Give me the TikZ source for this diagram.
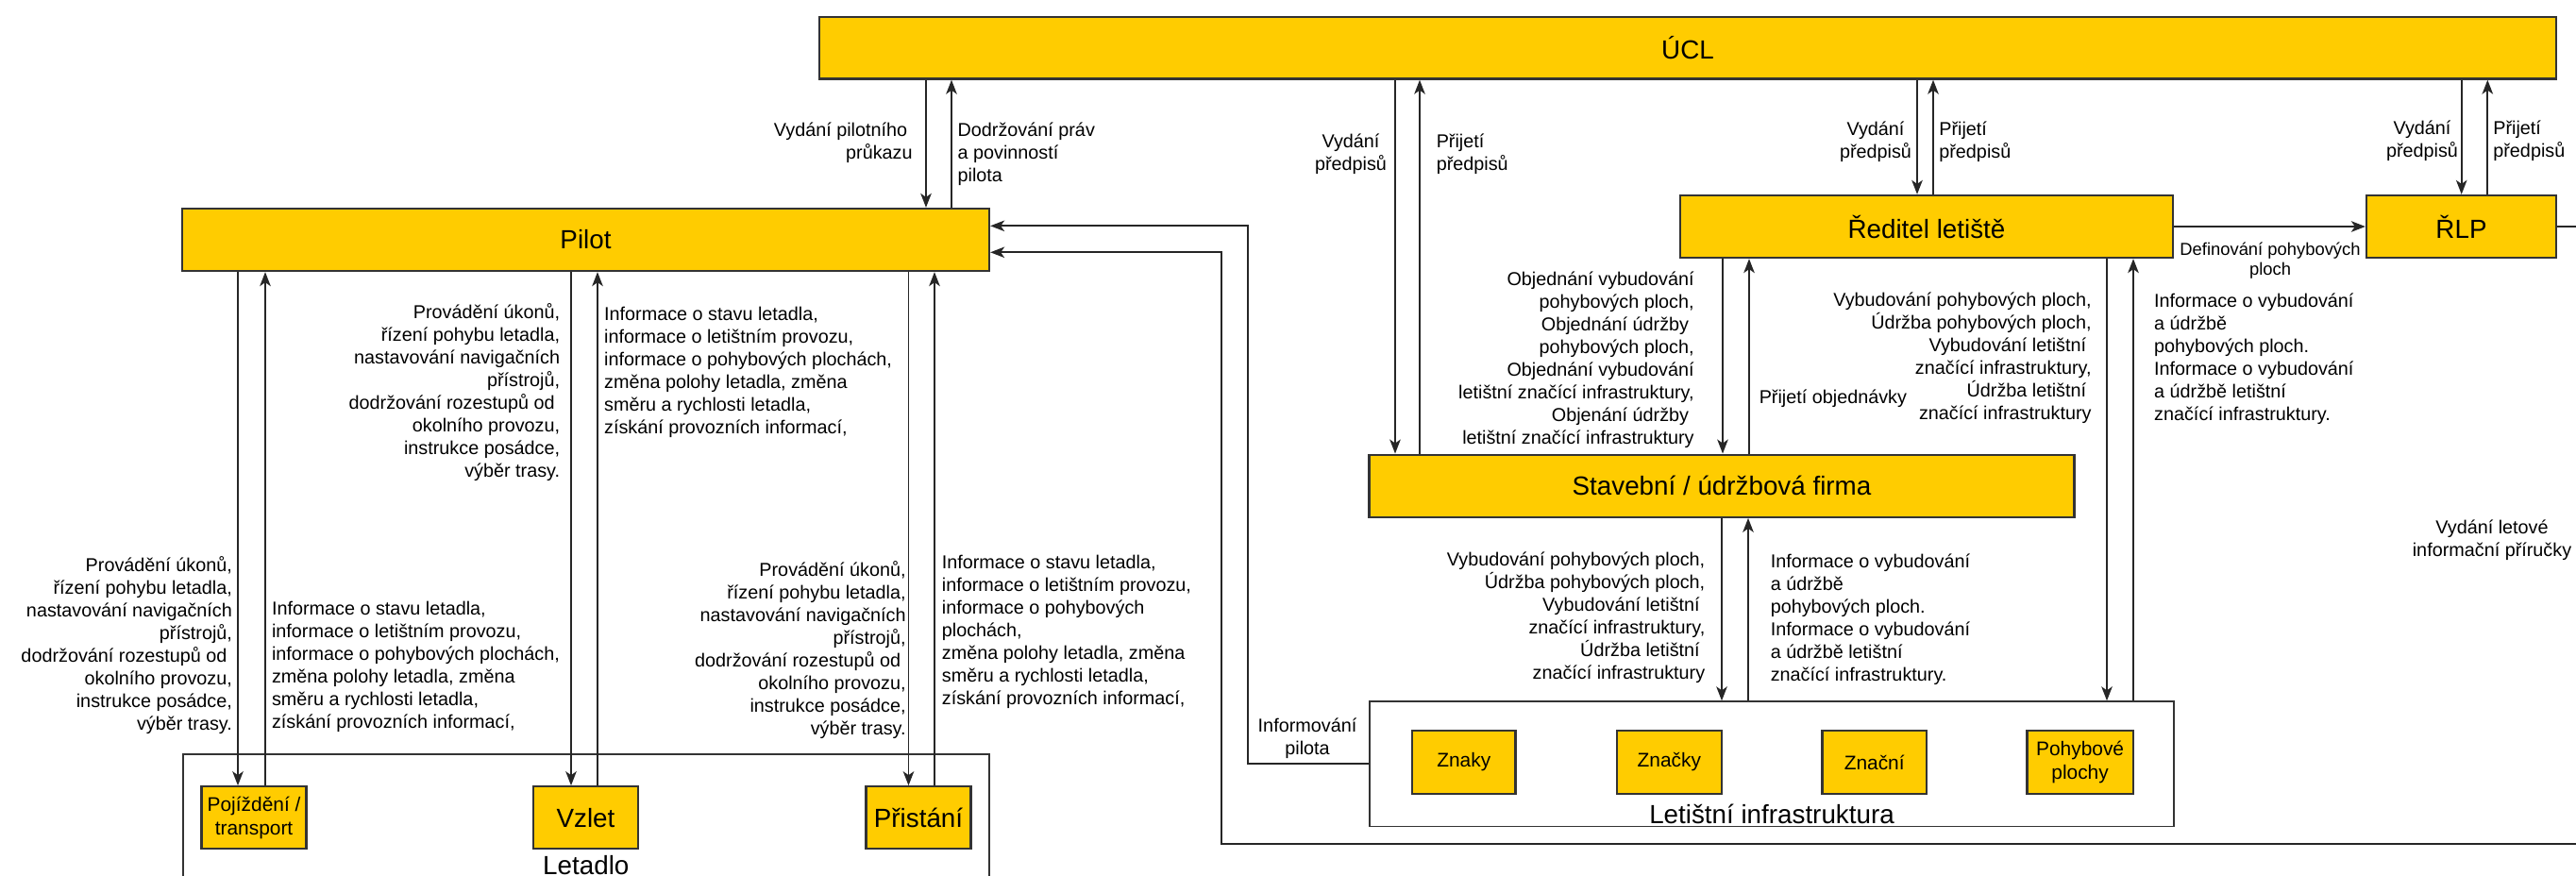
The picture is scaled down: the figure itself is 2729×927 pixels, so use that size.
\documentclass[tikz,border=0pt]{standalone}
\usepackage{fontspec}
\setmainfont{Liberation Sans}
\usetikzlibrary{arrows.meta,fit}

\definecolor{boxfill}{HTML}{FFCC00}
\definecolor{boxedge}{HTML}{333333}
\definecolor{linecol}{HTML}{262626}

% one unit of the drawing = 0.02cm
\newlength\pxu
\setlength\pxu{0.02cm}
\newcommand\tsp{\kern5.5\pxu}
\newcommand\topstrut{\rule{0pt}{1em}}
\newcommand\fsmall{\fontsize{11.27pt}{13.66pt}\selectfont}
\newcommand\fdefn{\fontsize{10.47pt}{12.35pt}\selectfont}
\newcommand\finner{\fontsize{11.9pt}{14.3pt}\selectfont}
\newcommand\fbig{\fontsize{15.82pt}{19pt}\selectfont}

\tikzset{
  ybox/.style={draw=boxedge, fill=boxfill, line width=1.3pt, inner sep=0pt},
  frame/.style={draw=boxedge, fill=white, line width=1.1pt, inner sep=0pt},
  link/.style={draw=linecol, line width=1.05pt},
  conn/.style={link, -{Stealth[length=0.3cm, width=0.23cm, inset=0.08cm]}},
  bigtext/.style={font=\fbig, inner sep=0pt},
  innertext/.style={font=\finner, inner sep=0pt, align=center},
  lbl/.style={font=\fsmall, inner sep=0pt},
  lblr/.style={lbl, align=right, anchor=north east},
  lbll/.style={lbl, align=left, anchor=north west},
  lblc/.style={lbl, align=center, anchor=north},
}
% vertical links between an upper and a lower node at a given x
\newcommand\linkdown[3]{\draw[conn] (#1.south -| #3,0) -- (#2.north -| #3,0);}
\newcommand\linkup[3]{\draw[conn] (#2.north -| #3,0) -- (#1.south -| #3,0);}

\begin{document}
\begin{tikzpicture}[x=0.02cm, y=-0.02cm]
\useasboundingbox (0,0) rectangle (2729,927);
\clip (0,0) rectangle (2729,927);

% ---- containers
\node[frame, fit={(193.6,799.3) (1048,1000)}] (letadlo) {};
\node[frame, fit={(1451,743.3) (2303,875.5)}] (letinf) {};
\node[bigtext, anchor=base] (letadloT) at (620.8,926) {Letadlo};
\node[bigtext, anchor=base] (letinfT) at (1877,872) {Letištní infrastruktura};

% ---- main actors
\node[ybox, fit={(868,18) (2708,83.5)}, label={[bigtext]center:ÚCL}] (ucl) {};
\node[ybox, fit={(193,221) (1048,287)}, label={[bigtext]center:Pilot}] (pilot) {};
\node[ybox, fit={(1780,207) (2302,273)}, label={[bigtext]center:Ředitel letiště}] (reditel) {};
\node[ybox, fit={(2507,207) (2708,273)}, label={[bigtext]center:ŘLP}] (rlp) {};
\node[ybox, fit={(1450.5,481.7) (2197.5,547.7)}, label={[bigtext]center:Stavební / údržbová firma}] (firma) {};

% ---- aircraft phases
\node[ybox, fit={(213.6,833.3) (324.5,899.3)}, label={[innertext]center:{Pojíždění /\\transport}}] (pojizdeni) {};
\node[ybox, fit={(565,833.3) (676,899.3)}, label={[bigtext]center:Vzlet}] (vzlet) {};
\node[ybox, fit={(917.6,833.3) (1028.5,899.3)}, label={[bigtext]center:Přistání}] (pristani) {};

% ---- airport infrastructure parts
\node[ybox, fit={(1496,774.3) (1605.6,840.7)}, label={[innertext]center:Znaky}] (znaky) {};
\node[ybox, fit={(1712.7,774.3) (1824,840.7)}, label={[innertext]center:Značky}] (znacky) {};
\node[ybox, fit={(1930.4,774.3) (2041,840.7)}, label={[innertext]center:Znační}] (znacni) {};
\node[ybox, fit={(2147.5,774.3) (2259.7,840.7)}, label={[innertext]center:{Pohybové\\plochy}}] (plochy) {};

% ---- vertical links
\linkdown{ucl}{pilot}{981}
\linkup{ucl}{pilot}{1008}
\linkdown{ucl}{firma}{1478}
\linkup{ucl}{firma}{1504}
\linkdown{ucl}{reditel}{2031}
\linkup{ucl}{reditel}{2048}
\linkdown{ucl}{rlp}{2607.7}
\linkup{ucl}{rlp}{2635.3}
\linkdown{reditel}{firma}{1825}
\linkup{reditel}{firma}{1853}
\linkdown{firma}{letinf}{1824}
\linkup{firma}{letinf}{1852}
\linkdown{reditel}{letinf}{2232}
\linkup{reditel}{letinf}{2260}
\linkdown{pilot}{pojizdeni}{252}
\linkup{pilot}{pojizdeni}{281}
\linkdown{pilot}{vzlet}{605}
\linkup{pilot}{vzlet}{633}
\linkdown{pilot}{pristani}{962.5}
\linkup{pilot}{pristani}{990}

% ---- horizontal and routed links
\draw[conn] (reditel.east) -- (rlp.west);
\coordinate (infoBend) at (1322,239.3);
\draw[conn] (letinf.west |- 0,809) -| (infoBend) -- (pilot.east |- infoBend);
\coordinate (loopR) at (2780,894);
\coordinate (loopL) at (1294,267.3);
\draw[conn] (rlp.east) -| (loopR) -| (loopL) -- (pilot.east |- loopL);

% ---- link labels
\node[lblr] (tA) at (967,124.2) {\topstrut Vydání pilotního\tsp\\průkazu};
\node[lbll] (tB) at (1014.3,124) {\topstrut Dodržování práv\\a povinností\\pilota};
\node[lblc] (tC) at (1431,136.5) {\topstrut Vydání\\předpisů};
\node[lbll] (tD) at (1521.4,136.5) {\topstrut Přijetí\\předpisů};
\node[lblc] (tE) at (1987,123.2) {\topstrut Vydání\\předpisů};
\node[lbll] (tF) at (2054,123.2) {\topstrut Přijetí\\předpisů};
\node[lblc] (tG) at (2566,122.7) {\topstrut Vydání\\předpisů};
\node[lbll] (tH) at (2641,122.7) {\topstrut Přijetí\\předpisů};
\node[lblc, font=\fdefn] (tI) at (2405,251.5) {\topstrut Definování pohybových\\ploch};
\node[lblr] (tJ) at (1795,282.2) {\topstrut Objednání vybudování\\pohybových ploch,\\Objednání údržby\tsp\\pohybových ploch,\\Objednání vybudování\\letištní značící infrastruktury,\\Objenání údržby\tsp\\letištní značící infrastruktury};
\node[lbll] (tK) at (1863.4,407.2) {\topstrut Přijetí objednávky};
\node[lblr] (tL) at (2216,304.5) {\topstrut Vybudování pohybových ploch,\\Údržba pohybových ploch,\\Vybudování letištní\tsp\\značící infrastruktury,\\Údržba letištní\tsp\\značící infrastruktury};
\node[lbll] (tM) at (2281.8,305.5) {\topstrut Informace o vybudování\\a údržbě\\pohybových ploch.\\Informace o vybudování\\a údržbě letištní\\značící infrastruktury.};
\node[lblr] (tN) at (1806.6,578.9) {\topstrut Vybudování pohybových ploch,\\Údržba pohybových ploch,\\Vybudování letištní\tsp\\značící infrastruktury,\\Údržba letištní\tsp\\značící infrastruktury};
\node[lbll] (tO) at (1875.4,581.5) {\topstrut Informace o vybudování\\a údržbě\\pohybových ploch.\\Informace o vybudování\\a údržbě letištní\\značící infrastruktury.};
\node[lblc] (tP) at (1385,755.5) {\topstrut Informování\\pilota};
\node[lblr] (tQ) at (593.5,317.2) {\topstrut Provádění úkonů,\\řízení pohybu letadla,\\nastavování navigačních\\přístrojů,\\dodržování rozestupů od\tsp\\okolního provozu,\\instrukce posádce,\\výběr trasy.};
\node[lbll] (tR) at (639.8,319.5) {\topstrut Informace o stavu letadla,\\informace o letištním provozu,\\informace o pohybových plochách,\\změna polohy letadla, změna\\směru a rychlosti letadla,\\získání provozních informací,};
\node[lblr] (tS) at (246.3,585.5) {\topstrut Provádění úkonů,\\řízení pohybu letadla,\\nastavování navigačních\\přístrojů,\\dodržování rozestupů od\tsp\\okolního provozu,\\instrukce posádce,\\výběr trasy.};
\node[lbll] (tT) at (287.7,631.2) {\topstrut Informace o stavu letadla,\\informace o letištním provozu,\\informace o pohybových plochách,\\změna polohy letadla, změna\\směru a rychlosti letadla,\\získání provozních informací,};
\node[lblr] (tU) at (960,590.5) {\topstrut Provádění úkonů,\\řízení pohybu letadla,\\nastavování navigačních\\přístrojů,\\dodržování rozestupů od\tsp\\okolního provozu,\\instrukce posádce,\\výběr trasy.};
\node[lbll] (tV) at (997.5,582.2) {\topstrut Informace o stavu letadla,\\informace o letištním provozu,\\informace o pohybových\\plochách,\\změna polohy letadla, změna\\směru a rychlosti letadla,\\získání provozních informací,};
\node[lblc] (tW) at (2640,545.7) {\topstrut Vydání letové\\informační příručky};
\end{tikzpicture}
\end{document}
